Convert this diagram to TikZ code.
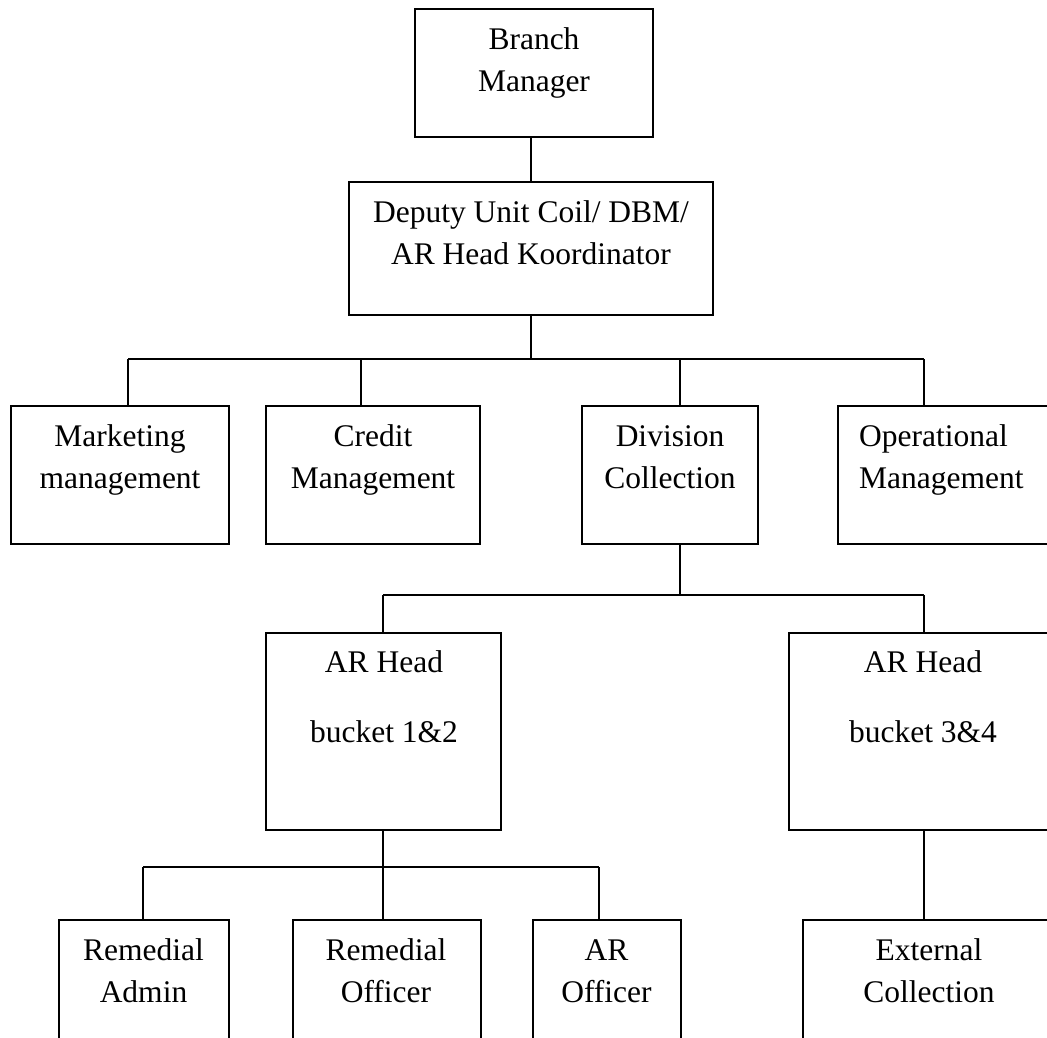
\documentclass[tikz,border=0pt]{standalone}
\usepackage{fontspec}
\setmainfont{Liberation Serif}
\begin{document}
\begin{tikzpicture}[x=1pt,y=-1pt,
  box/.style={draw=black, line width=1.7pt, inner sep=0pt, rectangle},
  lbl/.style={inner sep=0pt, anchor=north, align=center, font=\fontsize{31.5}{42}\selectfont},
  lbll/.style={inner sep=0pt, anchor=north west, align=left, font=\fontsize{31.5}{42}\selectfont},
  conn/.style={draw=black, line width=1.3pt},
  bus/.style={draw=black, line width=1.7pt}]
\useasboundingbox (0,0) rectangle (1047,1038);
\fill[white] (0,0) rectangle (1047,1038);
\clip (0,0) rectangle (1047,1038);

% boxes
\node[box, minimum width=238, minimum height=128] (bm)  at (534,73) {};
\node[box, minimum width=364, minimum height=133] (dep) at (531,248.5) {};
\node[box, minimum width=218, minimum height=138] (mkt) at (120,475) {};
\node[box, minimum width=214, minimum height=138] (crd) at (373,475) {};
\node[box, minimum width=176, minimum height=138] (div) at (670,475) {};
\node[box, minimum width=222, minimum height=138] (ops) at (949,475) {};
\node[box, minimum width=235, minimum height=197] (arl) at (383.5,731.5) {};
\node[box, minimum width=270, minimum height=197] (arr) at (924,731.5) {};
\node[box, minimum width=170, minimum height=140] (ra)  at (144,990) {};
\node[box, minimum width=188, minimum height=140] (ro)  at (387,990) {};
\node[box, minimum width=148, minimum height=140] (aro) at (607,990) {};
\node[box, minimum width=252, minimum height=140] (ext) at (929,990) {};

% labels
\node[lbl] (bmT)  at (534,19.6)  {\strut Branch\\Manager};
\node[lbl] (depT) at (531,192.6) {\strut Deputy Unit Coil/ DBM/\\AR Head Koordinator};
\node[lbl] (mktT) at (120,416.6) {\strut Marketing\\management};
\node[lbl] (crdT) at (373,416.6) {\strut Credit\\Management};
\node[lbl] (divT) at (670,416.6) {\strut Division\\Collection};
\node[lbll] (opsT) at (859,416.6) {\strut Operational\\Management};
\node[lbl] (arlT) at (384,642.6) {\strut AR Head\\[28pt]bucket 1\&2};
\node[lbl] (arrT) at (923,642.6) {\strut AR Head\\[28pt]bucket 3\&4};
\node[lbl] (raT)  at (143.5,930.6) {\strut Remedial\\Admin};
\node[lbl] (roT)  at (386,930.6) {\strut Remedial\\Officer};
\node[lbl] (aroT) at (606.5,930.6) {\strut AR\\Officer};
\node[lbl] (extT) at (929,930.6) {\strut External\\Collection};

% junction coordinates
\coordinate (b1) at (531,359);
\coordinate (j1a) at (128,359);
\coordinate (j1b) at (361,359);
\coordinate (j1c) at (680,359);
\coordinate (j1d) at (924,359);
\coordinate (b2) at (680,595);
\coordinate (j2a) at (383,595);
\coordinate (j2b) at (924,595);
\coordinate (b3) at (383,867);
\coordinate (j3a) at (143,867);
\coordinate (j3b) at (383,867);
\coordinate (j3c) at (599,867);

% connectors
\draw[conn] (dep.north) -- (dep.north |- bm.south);
\draw[conn] (dep.south) -- (b1);
\draw[bus] (j1a) -- (j1d);
\draw[conn] (j1a) -- (j1a |- mkt.north);
\draw[conn] (j1b) -- (j1b |- crd.north);
\draw[conn] (j1c) -- (j1c |- div.north);
\draw[conn] (j1d) -- (j1d |- ops.north);
\draw[conn] (b2 |- div.south) -- (b2);
\draw[bus] (j2a) -- (j2b);
\draw[conn] (j2a) -- (j2a |- arl.north);
\draw[conn] (j2b) -- (j2b |- arr.north);
\draw[conn] (b3 |- arl.south) -- (b3);
\draw[bus] (j3a) -- (j3c);
\draw[conn] (j3a) -- (j3a |- ra.north);
\draw[conn] (j3b) -- (j3b |- ro.north);
\draw[conn] (j3c) -- (j3c |- aro.north);
\draw[conn] (arr.south -| j2b) -- (j2b |- ext.north);
\end{tikzpicture}
\end{document}
